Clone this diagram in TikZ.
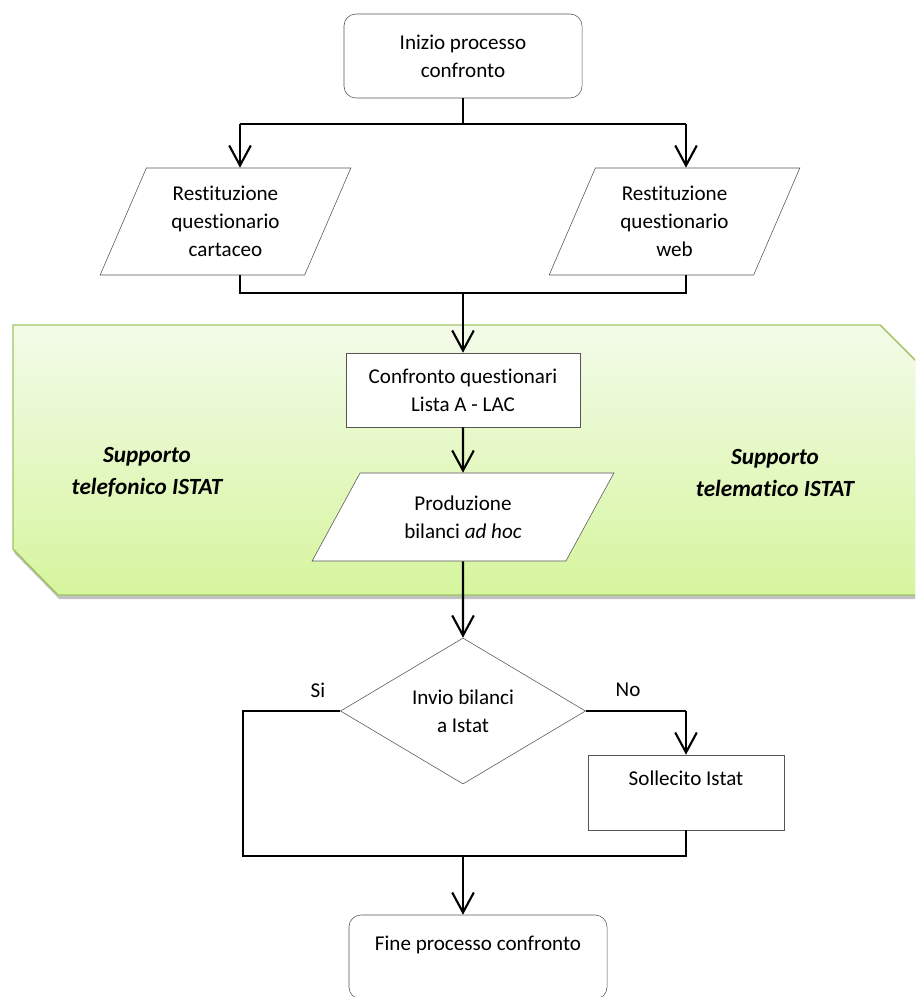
\documentclass[tikz,border=0pt]{standalone}
\usepackage{fontspec}
\setmainfont{Carlito}[Ligatures=NoCommon]
\usetikzlibrary{arrows.meta,positioning,shapes.geometric,shadows}
\definecolor{bandtop}{RGB}{243,251,233}
\definecolor{bandbot}{RGB}{214,245,158}
\definecolor{bandline}{RGB}{158,196,98}
\definecolor{edge}{RGB}{85,85,85}
\tikzset{
  >={Straight Barb[length=5mm,width=5.4mm]},
  txt/.style={font=\fontsize{15}{20}\selectfont,align=center},
  side/.style={font=\fontsize{16.5}{23}\selectfont\bfseries\itshape,align=center},
  terminal/.style={txt,draw=edge,fill=white,rounded corners=3mm,inner sep=0pt,
    minimum width=#1,minimum height=2.1cm},
  proc/.style={txt,draw=edge,fill=white,inner sep=0pt,minimum width=#1},
  io/.style={txt,draw=edge,fill=white,trapezium,trapezium stretches=true,
    inner sep=0pt,minimum width=#1},
  decision/.style={txt,draw=edge,fill=white,diamond,inner sep=0pt,
    minimum width=6.125cm,minimum height=3.65cm},
  flow/.style={->,line width=1.5pt},
  wire/.style={line width=1pt},
  band/.style={draw=bandline,line width=1pt,top color=bandtop,bottom color=bandbot,
    drop shadow={shadow xshift=1pt,shadow yshift=-3pt,opacity=.35,fill=black!70}},
}
\begin{document}
\begin{tikzpicture}[x=0.025cm,y=-0.025cm]
  \useasboundingbox (0,0) rectangle (915,997);
  \clip (0,0) rectangle (915,997);
  % fascia di supporto
  \path[band] (13,325) -- (880,325) -- (926,371) -- (926,595) -- (58,595) -- (13,549) -- cycle;
  \node[side] (tel) at (147,472) {Supporto\\telefonico ISTAT};
  \node[side] (tlm) at (775,473) {Supporto\\telematico ISTAT};
  % blocchi
  \node[terminal=5.95cm] (start) at (463,56) {Inizio processo\\confronto};
  \node[io=6.275cm,minimum height=2.675cm,trapezium left angle=66,trapezium right angle=114]
    (cart) at (225.5,221.5) {Restituzione\\questionario\\cartaceo};
  \node[io=6.275cm,minimum height=2.675cm,trapezium left angle=66,trapezium right angle=114]
    (web) at (674.5,221.5) {Restituzione\\questionario\\web};
  \node[proc=5.85cm,minimum height=1.85cm] (cmp) at (463,390) {Confronto questionari\\Lista A - LAC};
  \node[io=7.55cm,minimum height=2.2cm,trapezium left angle=57.5,trapezium right angle=122.5]
    (prod) at (463,517) {Produzione\\bilanci \textit{ad hoc}};
  \node[decision] (dec) at (463,711) {Invio bilanci\\a Istat};
  \node[proc=4.9cm,minimum height=1.875cm] (sol) at (686,792.5) {Sollecito Istat\\\mbox{}};
  \node[terminal=6.45cm] (end) at (478,957) {Fine processo confronto\\\mbox{}};
  \node[txt] (si) at (318,690) {Si};
  \node[txt] (no) at (628,690) {No};
  % collegamenti
  \coordinate (forkL) at (240,124);
  \coordinate (forkR) at (686,124);
  \coordinate (joinL) at (240,293);
  \coordinate (joinR) at (686,293);
  \coordinate (siL) at (243,711);
  \coordinate (noR) at (686,711);
  \coordinate (mergeL) at (243,856);
  \coordinate (mergeR) at (686,856);
  \draw[wire] (start) -- (start |- forkL);
  \draw[wire] (forkL) -- (forkR);
  \draw[flow] (forkL) -- (forkL |- cart.north);
  \draw[flow] (forkR) -- (forkR |- web.north);
  \draw[wire] (forkL |- cart.south) -- (joinL) -- (joinR) -- (forkR |- web.south);
  \draw[flow] (cmp |- joinL) -- (cmp);
  \draw[flow] (cmp) -- (prod);
  \draw[flow] (prod) -- (dec);
  \draw[wire] (dec.west) -- (siL) -- (mergeL) -- (mergeR) -- (sol.south);
  \draw[wire] (dec.east) -- (noR);
  \draw[flow] (noR) -- (sol);
  \draw[flow] (dec |- mergeL) -- (dec |- end.north);
\end{tikzpicture}
\end{document}
